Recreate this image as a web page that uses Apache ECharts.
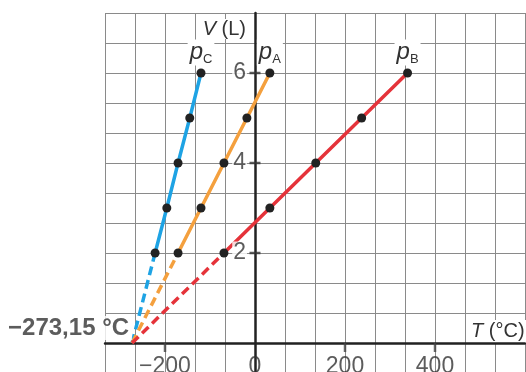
<!DOCTYPE html>
<html>
<head>
<meta charset="utf-8">
<title>Gay-Lussac</title>
<script src="https://cdn.jsdelivr.net/npm/echarts@6.0.0/dist/echarts.min.js"></script>
<style>
  html, body { margin: 0; padding: 0; background: #fff; }
  #chart { width: 526px; height: 372px; }
</style>
</head>
<body>
<div id="chart"></div>
<script>
// volumes (L) measured on every isobar
var volumes = [2, 3, 4, 5, 6];
// temperatures (°C), one per volume
var tempC = [-222, -196, -171, -145, -120];
var tempA = [-171, -120, -69, -18, 33];
var tempB = [-69, 33, 135, 237, 339];
// absolute zero, where all isobars meet
var absZero = -273.15;
// tick marks and tick labels
var xTicks = [-200, 200, 400];
var yTicks = [2, 4, 6];
var xLabels = [-200, 0, 200, 400];
var yLabels = [2, 4, 6];

var FONT = '"Liberation Sans", Arial, sans-serif';
var INK = '#333';

function pairs(temps) {
    return temps.map(function (t, i) { return [t, volumes[i]]; });
}

function fmtNum(n) {
    return n < 0 ? '\u2212' + (-n) : String(n);
}

// dashed extrapolation + measured segment with dots and the p label
function isobar(sub, color, temps) {
    var pts = pairs(temps);
    return [{
        type: 'line',
        data: [[absZero, 0], pts[0]],
        symbol: 'none',
        silent: true,
        lineStyle: { color: color, width: 3.5, type: [9, 5] },
        z: 3
    }, {
        type: 'line',
        data: pts.map(function (p, i) {
            if (i < pts.length - 1) return p;
            return { value: p, label: { show: true, formatter: '{p|p}{s|' + sub + '}' } };
        }),
        symbol: 'circle',
        symbolSize: 9,
        itemStyle: { color: '#222' },
        lineStyle: { color: color, width: 3.5 },
        label: {
            show: false,
            position: 'top',
            distance: 3,
            backgroundColor: '#fff',
            padding: [0, 2, 0, 2],
            rich: {
                p: { fontFamily: FONT, fontStyle: 'italic', fontSize: 24, color: INK, lineHeight: 26 },
                s: { fontFamily: FONT, fontSize: 13, color: INK, lineHeight: 16, verticalAlign: 'bottom' }
            }
        },
        z: 4
    }];
}

var chart = echarts.init(document.getElementById('chart'));

var series = []
    .concat(isobar('C', '#1ea3e4', tempC))
    .concat(isobar('A', '#f4a03e', tempA))
    .concat(isobar('B', '#e5333a', tempB));

// tick marks on the axes
series.push({
    type: 'scatter',
    data: xTicks.map(function (t) { return [t, 0]; }),
    symbol: 'rect',
    symbolSize: [2.5, 9],
    symbolOffset: [0, 4.5],
    itemStyle: { color: '#444' },
    silent: true,
    z: 5
});
series.push({
    type: 'scatter',
    data: yTicks.map(function (v) { return [0, v]; }),
    symbol: 'rect',
    symbolSize: [11, 2.5],
    itemStyle: { color: '#333' },
    silent: true,
    z: 5
});
// tick labels sitting on the zero lines
series.push({
    type: 'scatter',
    data: xLabels.map(function (t) { return [t, 0]; }),
    symbolSize: 0,
    silent: true,
    label: {
        show: true, position: 'bottom', distance: 12,
        formatter: function (p) { return fmtNum(p.value[0]); },
        fontFamily: FONT, fontSize: 23, color: INK
    },
    z: 5
});
series.push({
    type: 'scatter',
    data: yLabels.map(function (v) { return [0, v]; }),
    symbolSize: 0,
    silent: true,
    label: {
        show: true, position: 'left', distance: 8,
        formatter: function (p) { return fmtNum(p.value[1]); },
        fontFamily: FONT, fontSize: 23, color: INK,
        backgroundColor: '#fff', padding: [0, 1, 0, 1]
    },
    z: 5
});
// −273,15 °C label
series.push({
    type: 'scatter',
    data: [[absZero, 0]],
    symbolSize: 0,
    silent: true,
    label: {
        show: true,
        position: 'left',
        distance: 0,
        offset: [0, -15],
        formatter: '\u2212273,15 °C',
        fontFamily: FONT,
        fontWeight: 'bold',
        fontSize: 24,
        lineHeight: 24,
        color: INK,
        backgroundColor: '#fff',
        padding: [0, 3, 0, 3]
    },
    z: 6
});

chart.setOption({
    animation: false,
    backgroundColor: '#fff',
    grid: { left: 105, right: 1, top: 13, height: 360, outerBoundsMode: 'none', containLabel: false },
    xAxis: {
        type: 'value',
        min: -1000 / 3,
        max: 600,
        interval: 200 / 3,
        name: '{i|T} (°C)',
        nameLocation: 'end',
        nameGap: -57,
        nameTextStyle: {
            fontFamily: FONT, fontSize: 20, color: INK,
            align: 'left', verticalAlign: 'bottom',
            lineHeight: 22, backgroundColor: '#fff', padding: [0, 3, 1, 3],
            rich: { i: { fontFamily: FONT, fontSize: 20, fontStyle: 'italic', color: INK, lineHeight: 22 } }
        },
        axisLine: { onZero: true, lineStyle: { color: '#222', width: 2.5 } },
        axisTick: { show: false },
        axisLabel: { show: false },
        splitLine: { show: true, lineStyle: { color: '#8a8a8a', width: 1 } }
    },
    yAxis: {
        type: 'value',
        min: -2 / 3,
        max: 22 / 3,
        interval: 2 / 3,
        name: '{i|V}{t| (L)}{g|}',
        nameLocation: 'end',
        nameGap: -16,
        nameTextStyle: {
            align: 'right', verticalAlign: 'middle',
            rich: {
                i: { fontFamily: FONT, fontSize: 20, fontStyle: 'italic', color: INK, lineHeight: 24,
                     backgroundColor: '#fff', padding: [0, 0, 0, 4] },
                t: { fontFamily: FONT, fontSize: 20, color: INK, lineHeight: 24,
                     backgroundColor: '#fff', padding: [0, 3, 0, 0] },
                g: { width: 6 }
            }
        },
        axisLine: { onZero: true, lineStyle: { color: '#222', width: 2.5 } },
        axisTick: { show: false },
        axisLabel: { show: false },
        splitLine: { show: true, lineStyle: { color: '#8a8a8a', width: 1 } }
    },
    series: series
});
</script>
</body>
</html>
